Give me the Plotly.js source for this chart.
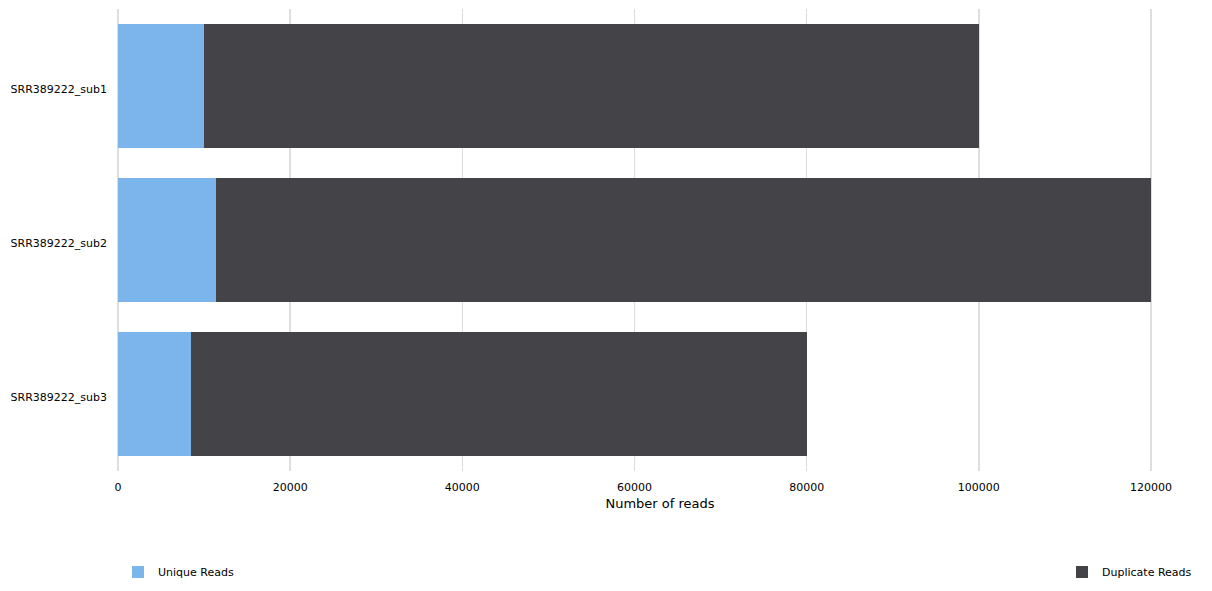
<!DOCTYPE html>
<html>
<head>
<meta charset="utf-8">
<script src="https://cdn.plot.ly/plotly-3.0.1.min.js"></script>
<style>html,body{margin:0;padding:0;background:#fff;}#chart{width:1212px;height:591px;}</style>
</head>
<body>
<div id="chart"></div>
<script>
const samples = ["SRR389222_sub1", "SRR389222_sub2", "SRR389222_sub3"];
const uniqueReads = [10000, 11400, 8500];
const duplicateReads = [90000, 108600, 71500];
const xTicks = [0, 20000, 40000, 60000, 80000, 100000, 120000];

const font = 'DejaVu Sans, sans-serif';

const traces = [
  {
    type: 'bar', orientation: 'h', name: 'Unique Reads',
    y: samples, x: uniqueReads,
    marker: {color: '#7cb5ec', line: {width: 0}},
    legend: 'legend'
  },
  {
    type: 'bar', orientation: 'h', name: 'Duplicate Reads',
    y: samples, x: duplicateReads,
    marker: {color: '#434348', line: {width: 0}},
    legend: 'legend2'
  }
];

const layout = {
  width: 1212, height: 591,
  barmode: 'stack',
  bargap: 0.195,
  margin: {l: 118, r: 10, t: 9, b: 120, autoexpand: false},
  paper_bgcolor: '#fff', plot_bgcolor: '#fff',
  font: {family: font, size: 11, color: '#000'},
  xaxis: {
    range: [0, 125925],
    tickvals: xTicks,
    ticktext: xTicks.map(String),
    showgrid: true, gridcolor: '#dedede', gridwidth: 1.5,
    zeroline: true, zerolinecolor: '#dedede', zerolinewidth: 1.5,
    showline: false, ticks: '',
    automargin: false,
    ticklabelstandoff: 8,
    tickfont: {family: font, size: 11, color: '#000'},
    title: {text: 'Number of reads', font: {family: font, size: 13, color: '#000'}, standoff: 5}
  },
  yaxis: {
    autorange: 'reversed',
    showgrid: false, zeroline: false, showline: false, ticks: '',
    automargin: false,
    tickfont: {family: font, size: 11, color: '#000'},
    ticklabelstandoff: 10,
    ticklabelshift: -3
  },
  legend: {
    x: 0.0, xanchor: 'left', yref: 'container', y: 0.032, yanchor: 'middle',
    orientation: 'h', font: {family: font, size: 11, color: '#000'},
    bgcolor: 'rgba(0,0,0,0)'
  },
  legend2: {
    xref: 'container', x: 1062 / 1212, xanchor: 'left', yref: 'container', y: 0.032, yanchor: 'middle',
    orientation: 'h', font: {family: font, size: 11, color: '#000'},
    bgcolor: 'rgba(0,0,0,0)'
  },
  showlegend: true
};

Plotly.newPlot('chart', traces, layout, {displayModeBar: false, staticPlot: true});
</script>
</body>
</html>
